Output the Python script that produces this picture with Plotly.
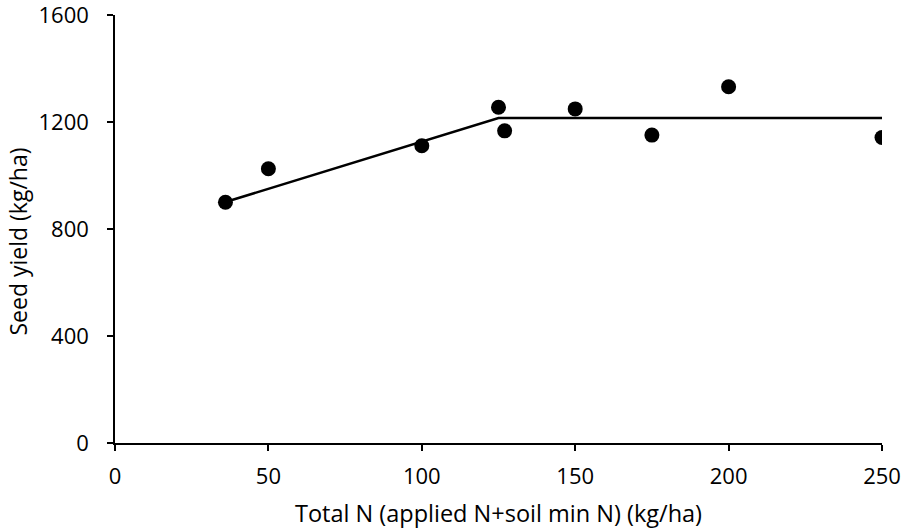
import plotly.graph_objects as go

# Observed data
total_n = [36, 50, 100, 125, 127, 150, 175, 200, 250]
seed_yield = [900, 1025, 1111, 1255, 1167, 1249, 1151, 1332, 1142]

# Linear-plateau fit line
fit_x = [36, 125, 250]
fit_y = [901, 1215, 1215]

x_ticks = [0, 50, 100, 150, 200, 250]
y_ticks = [0, 400, 800, 1200, 1600]

FONT = "Open Sans"

fig = go.Figure()
fig.add_trace(go.Scatter(x=fit_x, y=fit_y, mode="lines",
                         line=dict(color="black", width=2.5), showlegend=False))
fig.add_trace(go.Scatter(x=total_n, y=seed_yield, mode="markers",
                         marker=dict(color="black", size=15), showlegend=False))

fig.update_layout(
    width=901, height=530,
    margin=dict(l=114.5, r=19.3, t=15, b=86.7),
    paper_bgcolor="white", plot_bgcolor="white",
    font=dict(family=FONT, size=22, color="black"),
    xaxis=dict(range=[0, 250], tickvals=x_ticks, ticks="outside", ticklen=6,
               tickcolor="black", tickwidth=1.5, showline=True, linecolor="black",
               linewidth=1.5, showgrid=False, zeroline=False, automargin=False,
               ticklabelstandoff=7, ticklabeloverflow="allow",
               title=dict(text="Total N (applied N+soil min N) (kg/ha)", standoff=16,
                          font=dict(size=23.5)),
               tickfont=dict(size=22)),
    yaxis=dict(range=[0, 1600], tickvals=y_ticks, ticks="outside", ticklen=6,
               tickcolor="black", tickwidth=1.5, showline=True, linecolor="black",
               linewidth=1.5, showgrid=False, zeroline=False, automargin=False,
               ticklabelstandoff=14, ticklabeloverflow="allow",
               tickfont=dict(size=22)),
    annotations=[dict(text="Seed yield (kg/ha)", textangle=-90, xref="paper", yref="paper",
                      x=0, y=0.5, xanchor="center", yanchor="middle",
                      xshift=-97.5, yshift=-13, showarrow=False,
                      font=dict(family=FONT, size=23, color="black"))],
)

fig.write_html("out.html")
